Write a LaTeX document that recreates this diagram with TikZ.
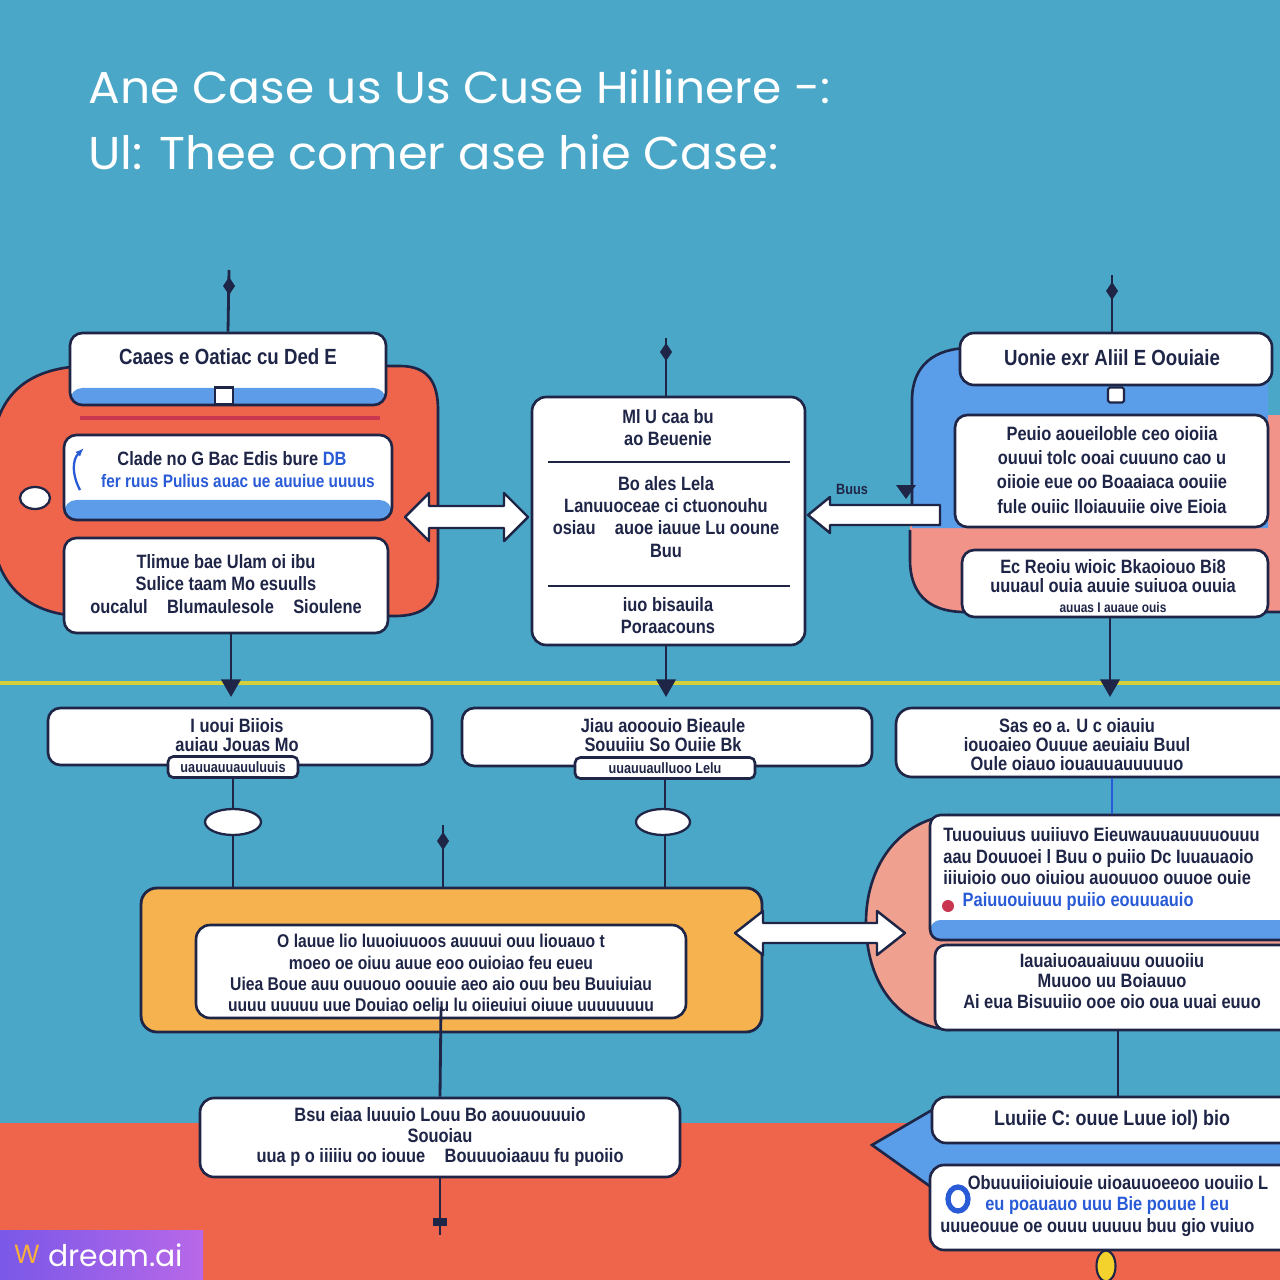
\documentclass[tikz,border=0pt]{standalone}
\usepackage{fontspec}
\usepackage{graphicx}
\usetikzlibrary{arrows.meta,shapes.geometric}
\newfontfamily\titlefont{Poppins}
\newfontfamily\boxfont[FakeStretch=0.85]{Liberation Sans}
\definecolor{bgteal}{HTML}{4AA7C7}
\definecolor{coral}{HTML}{EE654B}
\definecolor{redline}{HTML}{C9364F}
\definecolor{stripblue}{HTML}{5D9CE8}
\definecolor{rblue}{HTML}{5A9DE8}
\definecolor{pink}{HTML}{F2938A}
\definecolor{salmon}{HTML}{F0A08E}
\definecolor{orangebox}{HTML}{F6B24F}
\definecolor{navy}{HTML}{1F2547}
\definecolor{yline}{HTML}{D6CF3C}
\definecolor{iconblue}{HTML}{2A5BD7}
\definecolor{drop}{HTML}{F4D22E}
\definecolor{wmA}{HTML}{7A58E8}
\definecolor{wmB}{HTML}{B868E8}
\definecolor{wmlogo}{HTML}{F7B03C}
\begin{document}
\begin{tikzpicture}[x=0.02cm,y=-0.02cm,
  conn/.style={draw=navy,line width=1.6pt},
  boxw/.style={draw=navy,fill=white,line width=1.5pt,rounded corners=6pt,inner sep=0pt},
  strip/.style={path picture={\fill[stripblue] (path picture bounding box.south west) rectangle ([yshift=#1]path picture bounding box.south east);}},
  txt/.style={inner sep=0pt,align=center,text=navy,font=\boxfont\bfseries\fontsize{11}{12.6}\selectfont},
  hollow/.style={draw=navy,fill=white,line width=1.4pt,line join=round},
  blob/.style={draw=navy,line width=1.5pt},
  tipd/.style={-{Triangle[length=10pt,width=11pt]}},
]
\useasboundingbox (0,0) rectangle (1280,1280);
\clip (0,0) rectangle (1280,1280);
% background
\fill[bgteal] (0,0) rectangle (1280,1280);
\fill[coral] (0,1123) rectangle (1280,1280);

% title
\node[anchor=base west,inner sep=0pt,text=white] (title1) at (88,104)
  {\resizebox{14.84cm}{0.68cm}{\titlefont Ane Case us Us Cuse Hillinere -:}};
\node[anchor=base west,inner sep=0pt,text=white] (title2) at (88,170)
  {\resizebox{13.8cm}{0.70cm}{\titlefont Ul: Thee comer ase hie Case:}};

% ---------- left group ----------
\path[fill=coral,blob] (-5,430) .. controls (5,385) and (40,366) .. (90,366) -- (400,366)
  .. controls (430,366) and (438,385) .. (438,410) -- (438,578)
  .. controls (438,605) and (422,616) .. (395,616) -- (85,616)
  .. controls (35,616) and (5,592) .. (-5,552) -- cycle;
\draw[redline,line width=2pt] (80,418) -- (380,418);
\node[draw=navy,fill=white,line width=1.3pt,ellipse,minimum width=0.6cm,minimum height=0.44cm,inner sep=0pt] (lell) at (35,498) {};

\node[boxw,strip=0.34cm,minimum width=6.32cm,minimum height=1.44cm,rounded corners=7pt] (tl) at (228,369) {};
\node[txt,font=\boxfont\bfseries\fontsize{12.5}{13}\selectfont] (tlt) at (228,357) {Caaes e Oatiac cu Ded E};
\node[draw=navy,fill=white,line width=1.2pt,minimum width=0.36cm,minimum height=0.34cm,inner sep=0pt] (tlsq) at (224,396) {};

\node[boxw,strip=0.40cm,minimum width=6.56cm,minimum height=1.70cm,rounded corners=7pt] (ml) at (228,477.5) {};
\node[txt] (mlt1) at (232,459) {Clade no G Bac Edis bure \textcolor{iconblue}{DB}};
\node[txt,text=iconblue,font=\boxfont\bfseries\fontsize{10.3}{12}\selectfont] (mlt2) at (238,481) {fer ruus Pulius auac ue auuiue uuuus};
\draw[iconblue,line width=1.3pt,-{Latex[length=5pt]}] (80,490) .. controls (72,475) and (72,460) .. (84,448);

\node[boxw,minimum width=6.48cm,minimum height=1.90cm,rounded corners=7pt] (bl) at (226,585.5) {};
\node[txt] (blt) at (226,584) {Tlimue bae Ulam oi ibu\\ Sulice taam Mo esuulls\\ oucalul\quad Blumaulesole\quad Sioulene};

% double arrow left-center
\draw[hollow] (405,517) -- (429,493) -- (429,506) -- (504,506) -- (504,493) -- (528,517)
  -- (504,541) -- (504,528) -- (429,528) -- (429,541) -- cycle;

% ---------- center box ----------
\node[boxw,minimum width=5.46cm,minimum height=4.96cm,rounded corners=8pt] (ctr) at (668.5,521) {};
\draw[navy,line width=1.3pt] (548,462) -- (790,462);
\draw[navy,line width=1.3pt] (548,586) -- (790,586);
\node[txt] (ct1) at (668,428) {Ml U caa bu\\ ao Beuenie};
\node[txt] (ct2) at (666,517) {Bo ales Lela\\ Lanuuoceae ci ctuonouhu\\ osiau\quad auoe iauue Lu ooune\\ Buu};
\node[txt] (ct3) at (668,616) {iuo bisauila\\ Poraacouns};

% ---------- right group ----------
\path[fill=pink] (1280,415) -- (1280,612) -- (965,612) .. controls (925,612) and (910,590) .. (910,560)
  -- (910,525) -- (1265,525) -- (1265,415) -- cycle;
\draw[blob] (910,530) -- (910,560) .. controls (910,590) and (925,612) .. (965,612) -- (1280,612);
\path[fill=rblue] (912,528) -- (912,400) .. controls (912,365) and (935,348) .. (970,348) -- (1268,348) -- (1268,528) -- cycle;
\draw[blob] (912,505) -- (912,400) .. controls (912,365) and (935,348) .. (970,348) -- (1268,348);
\draw[hollow] (808,515) -- (830,497) -- (830,505) -- (940,505) -- (940,525) -- (830,525) -- (830,533) -- cycle;
\node[txt,font=\boxfont\bfseries\fontsize{8.5}{9}\selectfont] (buus) at (852,489) {Buus};
\fill[navy] (896,485) -- (916,485) -- (906,499) -- cycle;

\node[boxw,minimum width=6.24cm,minimum height=1.04cm,rounded corners=8pt] (rt) at (1116,359) {};
\node[txt,font=\boxfont\bfseries\fontsize{12.5}{13}\selectfont] (rtt) at (1112,358) {Uonie exr Aliil E Oouiaie};
\node[draw=navy,fill=white,line width=1.2pt,minimum width=0.32cm,minimum height=0.30cm,inner sep=0pt,rounded corners=1pt] (rtsq) at (1116,395) {};
\node[boxw,minimum width=6.26cm,minimum height=2.24cm,rounded corners=7pt] (rm) at (1111.5,471) {};
\node[txt,font=\boxfont\bfseries\fontsize{11}{13.7}\selectfont] (rmt) at (1112,470) {Peuio aoueiloble ceo oioiia\\ ouuui tolc ooai cuuuno cao u\\ oiioie eue oo Boaaiaca oouiie\\ fule ouiic lloiauuiie oive Eioia};
\node[boxw,minimum width=6.12cm,minimum height=1.34cm,rounded corners=7pt] (rb) at (1115,583.5) {};
\node[txt,font=\boxfont\bfseries\fontsize{11}{11}\selectfont] (rbt) at (1113,586) {Ec Reoiu wioic Bkaoiouo Bi8\\ uuuaul ouia auuie suiuoa ouuia\\ {\fontsize{8}{9}\selectfont auuas I auaue ouis}};

% ---------- top connectors ----------
\coordinate (tltop) at (229,270);
\coordinate (cttop) at (666,338);
\coordinate (rttop) at (1112,275);
\draw[conn] (tl.north) -- (tltop);
\draw[conn] (ctr.north -| cttop) -- (cttop);
\draw[conn] (rt.north -| rttop) -- (rttop);
\fill[navy] (229,277) -- (235,286) -- (229,295) -- (223,286) -- cycle;
\fill[navy] (666,343) -- (672,352) -- (666,361) -- (660,352) -- cycle;
\fill[navy] (1112,282) -- (1118,291) -- (1112,300) -- (1106,291) -- cycle;

% yellow line and arrows
\coordinate (yl0) at (0,683);
\coordinate (yl1) at (1280,683);
\draw[yline,line width=2.2pt] (yl0) -- (yl1);
\coordinate (a1) at (231,697);
\coordinate (a2) at (666,697);
\coordinate (a3) at (1110,697);
\draw[conn,tipd] (bl.south -| a1) -- (a1);
\draw[conn,tipd] (ctr.south -| a2) -- (a2);
\draw[conn,tipd] (rb.south -| a3) -- (a3);

% ---------- row 2 ----------
\node[boxw,minimum width=7.68cm,minimum height=1.14cm,rounded corners=7pt] (r2a) at (240,736.5) {};
\node[boxw,minimum width=2.60cm,minimum height=0.42cm,rounded corners=3pt] (r2at) at (233,767) {};
\node[txt,font=\boxfont\bfseries\fontsize{11}{10.8}\selectfont] (r2att) at (237,735) {I uoui Biiois\\ auiau Jouas Mo};
\node[txt,font=\boxfont\bfseries\fontsize{8.5}{9}\selectfont] (r2atb) at (233,767.5) {uauuauuauuluuis};
\node[boxw,minimum width=8.20cm,minimum height=1.16cm,rounded corners=7pt] (r2b) at (667,737) {};
\node[boxw,minimum width=3.60cm,minimum height=0.42cm,rounded corners=3pt] (r2bt) at (665,768) {};
\node[txt,font=\boxfont\bfseries\fontsize{11}{10.8}\selectfont] (r2btt) at (663,735) {Jiau aooouio Bieaule\\ Souuiiu So Ouiie Bk};
\node[txt,font=\boxfont\bfseries\fontsize{8.5}{9}\selectfont] (r2btb) at (665,768.5) {uuauuaulluoo Lelu};
\node[boxw,minimum width=8.08cm,minimum height=1.38cm,rounded corners=9pt] (r2c) at (1098,742.5) {};
\node[txt,font=\boxfont\bfseries\fontsize{11}{10.8}\selectfont] (r2ct) at (1077,745) {Sas eo a. U c oiauiu\\ iouoaieo Ouuue aeuiaiu Buul\\ Oule oiauo iouauuauuuuuo};

% ---------- orange box ----------
\node[draw=navy,fill=orangebox,line width=1.6pt,rounded corners=9pt,minimum width=12.42cm,minimum height=2.88cm,inner sep=0pt] (orng) at (451.5,960) {};
\node[boxw,minimum width=9.80cm,minimum height=1.86cm,rounded corners=8pt] (inner) at (441,971.5) {};
\node[txt,font=\boxfont\bfseries\fontsize{10.5}{12}\selectfont] (innert) at (441,973) {O lauue lio luuoiuuoos auuuui ouu liouauo t\\ moeo oe oiuu auue eoo ouioiao feu eueu\\ Uiea Boue auu ouuouo oouuie aeo aio ouu beu Buuiuiau\\ uuuu uuuuu uue Douiao oeliu lu oiieuiui oiuue uuuuuuuu};

% row2 -> orange connectors
\draw[conn] (r2at.south) -- (r2at.south |- orng.north);
\draw[conn] (r2bt.south) -- (r2bt.south |- orng.north);
\node[draw=navy,fill=white,line width=1.3pt,ellipse,minimum width=1.12cm,minimum height=0.52cm,inner sep=0pt] (e1) at (233,822) {};
\node[draw=navy,fill=white,line width=1.3pt,ellipse,minimum width=1.08cm,minimum height=0.52cm,inner sep=0pt] (e2) at (663,822) {};
\coordinate (otop) at (443,825);
\draw[conn] (otop) -- (otop |- orng.north);
\fill[navy] (443,832) -- (449,841) -- (443,850) -- (437,841) -- cycle;

% ---------- lower right group ----------
\path[fill=salmon] (1280,815) -- (950,815) .. controls (895,822) and (866,870) .. (866,922)
  .. controls (866,980) and (895,1025) .. (950,1030) -- (1280,1030) -- cycle;
\draw[blob] (950,815) .. controls (895,822) and (866,870) .. (866,922)
  .. controls (866,980) and (895,1025) .. (950,1030);
\node[boxw,strip=0.40cm,minimum width=7.40cm,minimum height=2.50cm,rounded corners=6pt] (lrt) at (1115,877.5) {};
\node[txt,align=left,anchor=west,font=\boxfont\bfseries\fontsize{11}{12.3}\selectfont] (lrtt) at (943,869) {Tuuouiuus uuiiuvo Eieuwauuauuuuouuu\\ aau Douuoei l Buu o puiio Dc Iuuauaoio\\ iiiuioio ouo oiuiou auouuoo ouuoe ouie\\ \quad\textcolor{iconblue}{Paiuuouiuuu puiio eouuuauio}};
\fill[redline] (948,906) circle (6);
\node[boxw,minimum width=7.30cm,minimum height=1.70cm,rounded corners=6pt] (lrb) at (1117.5,987.5) {};
\node[txt,font=\boxfont\bfseries\fontsize{11}{11.5}\selectfont] (lrbt) at (1112,981) {Iauaiuoauaiuuu ouuoiiu\\ Muuoo uu Boiauuo\\ Ai eua Bisuuiio ooe oio oua uuai euuo};
\draw[conn,draw=iconblue] (r2c.south -| 1112,0) -- (lrt.north -| 1112,0);

% double arrow orange <-> lower right
\draw[hollow] (735,933) -- (763,911) -- (763,923) -- (877,923) -- (877,911) -- (905,933)
  -- (877,955) -- (877,943) -- (763,943) -- (763,955) -- cycle;

% ---------- bottom ----------
\node[boxw,minimum width=9.60cm,minimum height=1.58cm,rounded corners=8pt] (bl2) at (440,1137.5) {};
\node[txt,font=\boxfont\bfseries\fontsize{11}{11.6}\selectfont] (bl2t) at (440,1137) {Bsu eiaa luuuio Louu Bo aouuouuuio\\ Souoiau\\ uua p o iiiiiu oo iouue\quad Bouuuoiaauu fu puoiio};
\draw[conn] ([yshift=0.25cm]inner.south) -- (bl2.north);
\coordinate (bbot) at (440,1235);
\draw[conn] (bl2.south) -- (bbot);
\fill[navy] (433,1218) rectangle (447,1226);

\path[fill=rblue,blob] (932,1110) -- (1285,1110) -- (1285,1192) -- (938,1192) -- (872,1145) -- cycle;
\node[boxw,minimum width=7.36cm,minimum height=0.92cm,rounded corners=8pt] (brt) at (1116,1120) {};
\node[txt,font=\boxfont\bfseries\fontsize{12}{12}\selectfont] (brtt) at (1112,1120) {Luuiie C: ouue Luue iol) bio};
\node[boxw,minimum width=7.40cm,minimum height=1.70cm,rounded corners=8pt] (brb) at (1115,1207.5) {};
\node[txt,align=left,anchor=west,font=\boxfont\bfseries\fontsize{11}{12.5}\selectfont] (brbt) at (940,1206) {\hspace{0.55cm}Obuuuiioiuiouie uioauuoeeoo uouiio L\\ \hspace{0.9cm}\textcolor{iconblue}{eu poauauo uuu Bie pouue l eu}\\ uuueouue oe ouuu uuuuu buu gio vuiuo};
\draw[iconblue,line width=3pt] (958,1199) ellipse (10 and 12);
\draw[conn] (lrb.south -| 1118,0) -- (brt.north -| 1118,0);
\node[draw=navy,fill=drop,line width=1.2pt,ellipse,minimum width=0.38cm,minimum height=0.62cm,inner sep=0pt] (dropn) at (1106,1266) {};
\draw[conn] (brb.south -| dropn) -- (dropn.north);

% ---------- watermark ----------
\shade[left color=wmA,right color=wmB] (0,1230) rectangle (203,1280);
\node[text=wmlogo,font=\titlefont\fontsize{15}{15}\selectfont,inner sep=0pt] (wmlogo) at (27,1254) {W};
\node[anchor=west,text=white,font=\titlefont\fontsize{17}{17}\selectfont,inner sep=0pt] (wm) at (48,1255) {dream.ai};
\end{tikzpicture}
\end{document}
